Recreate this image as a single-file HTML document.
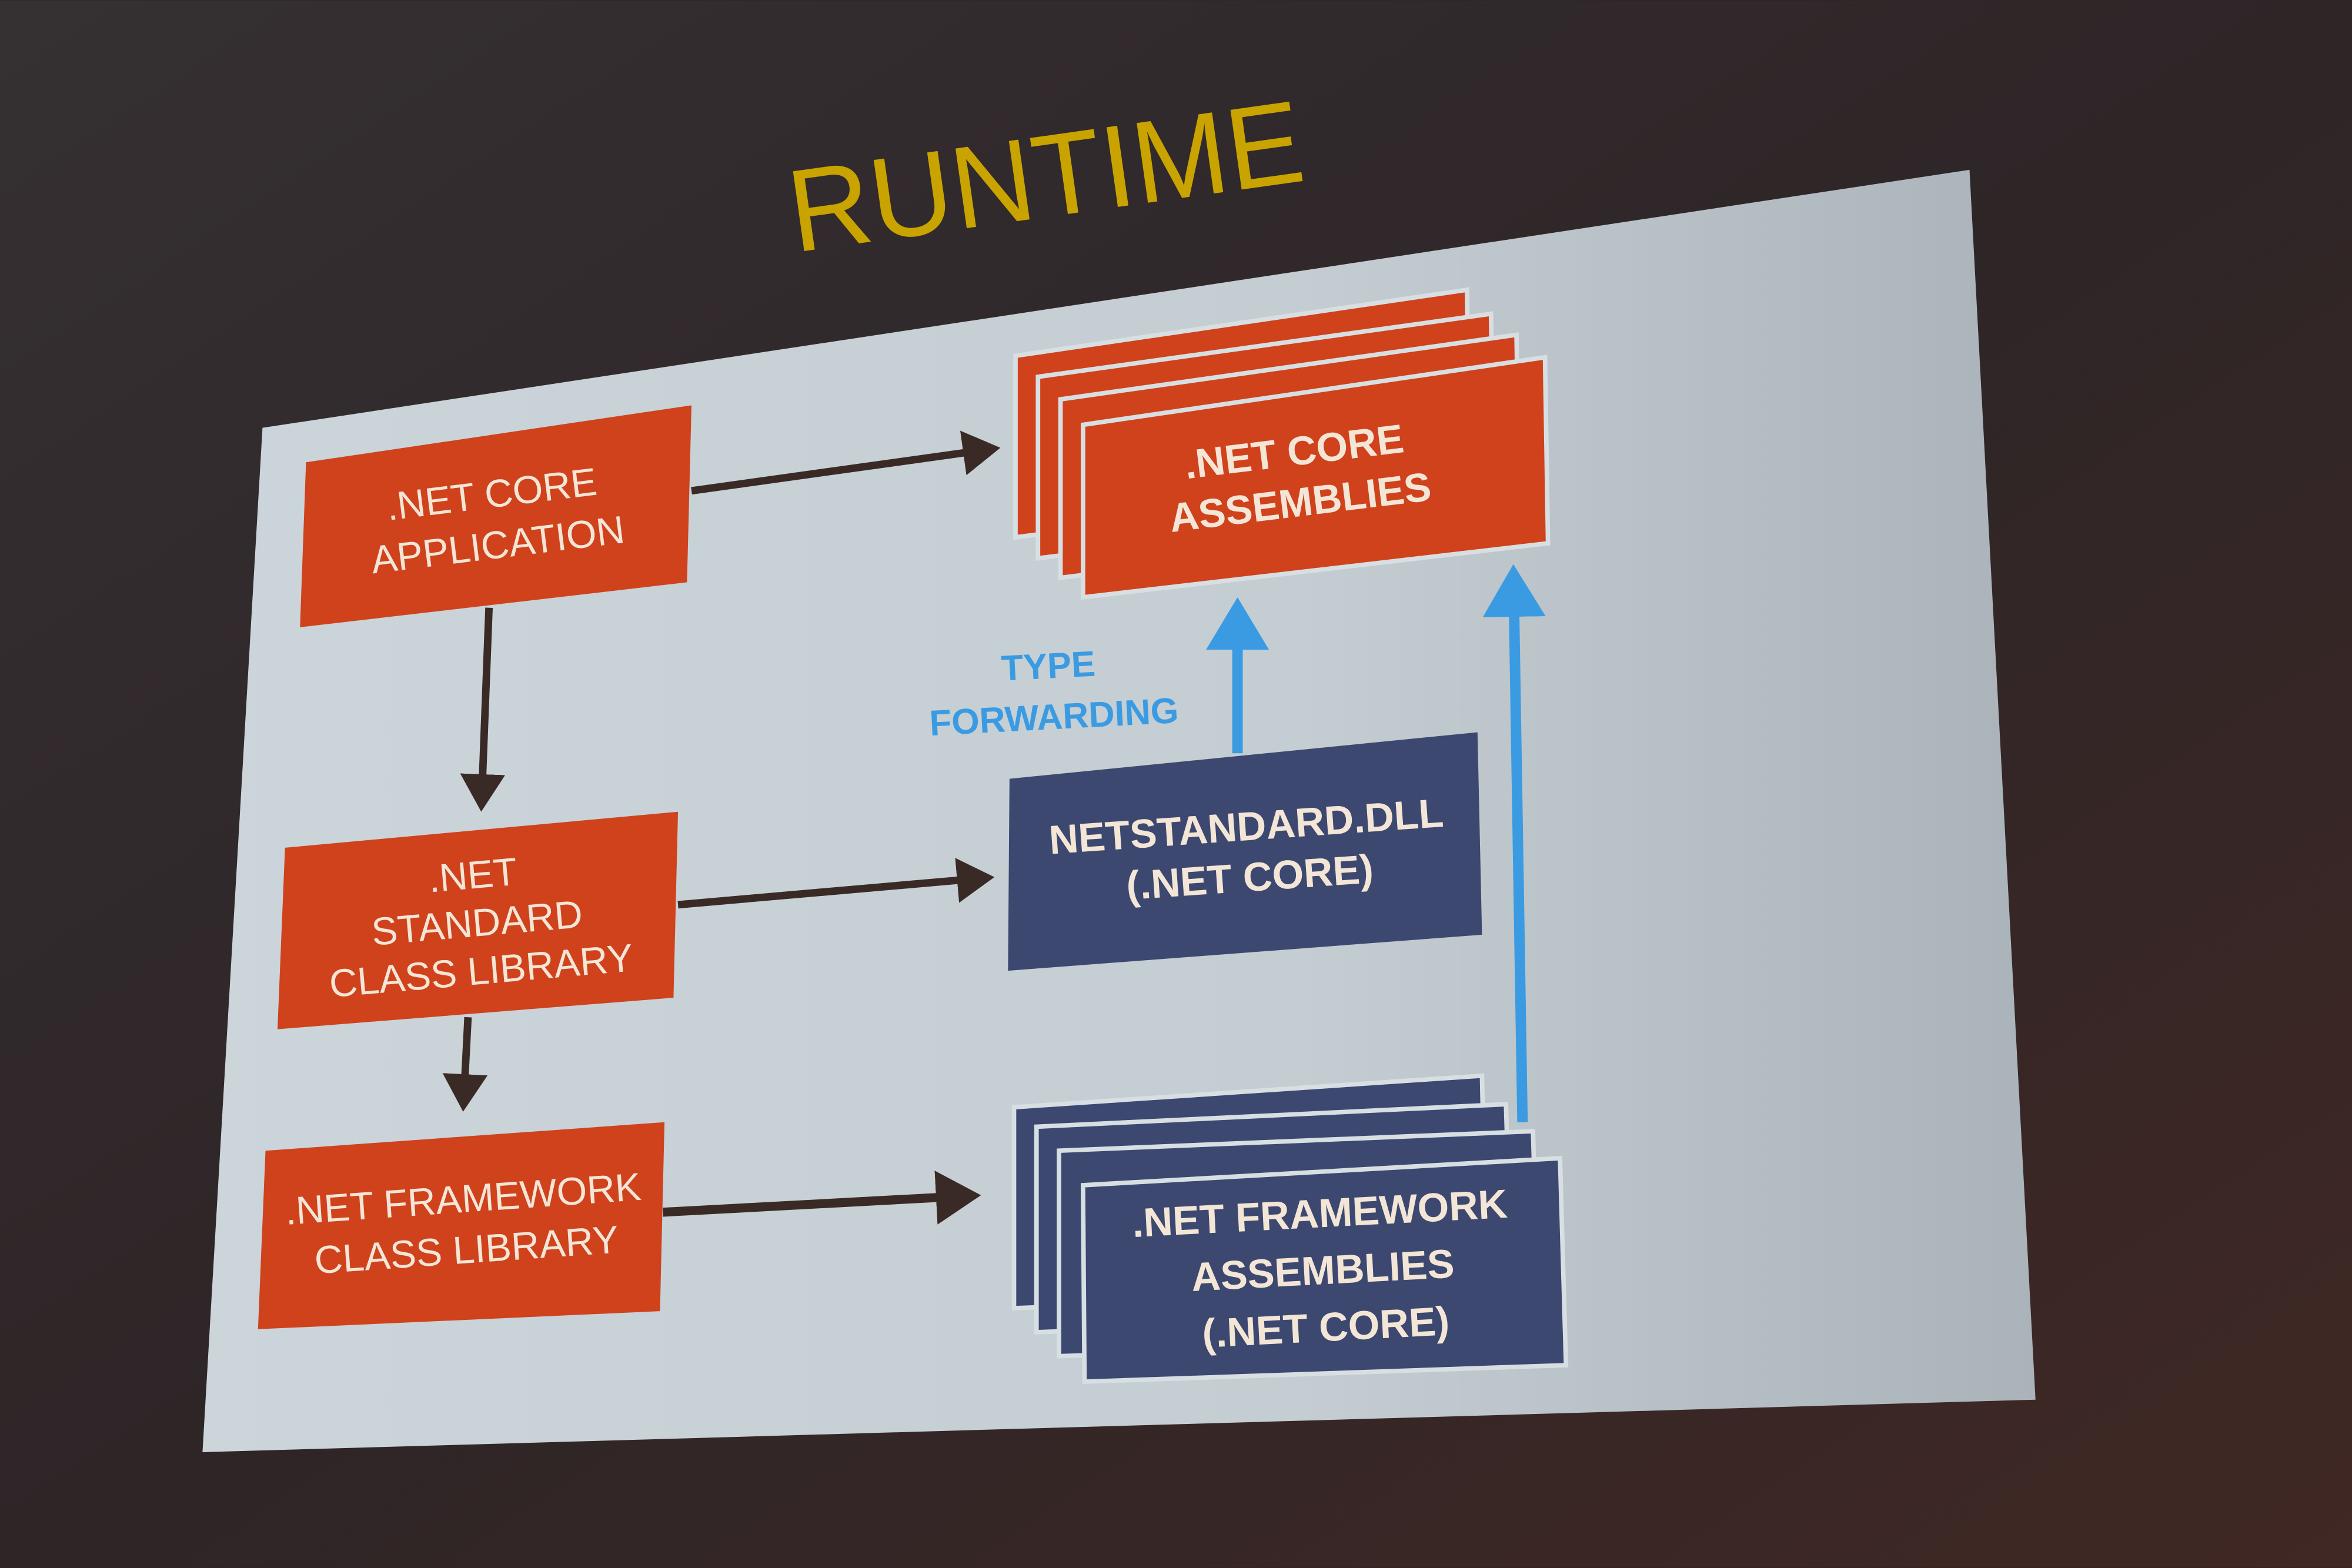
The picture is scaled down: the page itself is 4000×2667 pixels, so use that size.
<!DOCTYPE html>
<html><head><meta charset="utf-8"><style>
html,body{margin:0;padding:0;background:#2b2224;}
svg{display:block}
text{font-family:"Liberation Sans",sans-serif;}
</style></head><body>
<svg width="4000" height="2667" viewBox="0 0 1568 1045" xmlns="http://www.w3.org/2000/svg">
<defs>
<linearGradient id="bg" x1="0" y1="0" x2="1" y2="1">
<stop offset="0" stop-color="#353032"/><stop offset="0.5" stop-color="#2e2527"/><stop offset="1" stop-color="#402824"/>
</linearGradient>
<linearGradient id="scr" x1="0" y1="0" x2="1" y2="0">
<stop offset="0" stop-color="#cbd5da"/><stop offset="0.6" stop-color="#c4cdd2"/><stop offset="1" stop-color="#aab3b9"/>
</linearGradient>
<marker id="ad" markerWidth="6" markerHeight="6" refX="4" refY="3" orient="auto" markerUnits="strokeWidth"><path d="M0,0 L5,3 L0,6 z" fill="#3a2a26"/></marker>
<marker id="ab" markerWidth="6" markerHeight="6" refX="4" refY="3" orient="auto" markerUnits="strokeWidth"><path d="M0,0 L5,3 L0,6 z" fill="#3b9be2"/></marker>
</defs>
<rect width="1568" height="1045" fill="url(#bg)"/>
<polygon points="175,285 1313,113 1357,933 135,968" fill="url(#scr)"/>
<text x="0" y="0" font-size="78" fill="#c9a300" style="font-weight:normal" textLength="345" lengthAdjust="spacingAndGlyphs" transform="translate(530,168) rotate(-8)">RUNTIME</text>

<g fill="#cf421c" stroke="#d8dfe3" stroke-width="3">
<polygon points="677,237 978,193 980,320 677,358"/>
<polygon points="692,251 994,209 996,334 692,372"/>
<polygon points="707,266 1011,223 1013,348 707,385"/>
<polygon points="722,283 1030,238 1032,362 722,398"/>
</g>
<g fill="#3c4870" stroke="#d8dfe3" stroke-width="3">
<polygon points="676,738 988,717 991,860 676,872"/>
<polygon points="691,751 1004,736 1008,877 691,888"/>
<polygon points="706,767 1022,754 1026,893 706,904"/>
<polygon points="722,790 1040,772 1044,910 723,921"/>
</g>
<polygon points="204,308 461,270 458,388 200,418" fill="#cf421c"/>
<polygon points="190,565 452,541 449,665 185,686" fill="#cf421c"/>
<polygon points="177,767 443,748 440,874 172,886" fill="#cf421c"/>
<polygon points="673,519 985,488 988,623 672,647" fill="#3c4870"/>

<g stroke="#3a2a26" stroke-width="5" fill="none">
<line x1="461" y1="327" x2="662" y2="299" marker-end="url(#ad)"/>
<line x1="326" y1="405" x2="321" y2="536" marker-end="url(#ad)"/>
<line x1="452" y1="603" x2="658" y2="585" marker-end="url(#ad)"/>
<line x1="312" y1="678" x2="309" y2="736" marker-end="url(#ad)"/>
<line x1="442" y1="808" x2="648" y2="797" stroke-width="6" marker-end="url(#ad)"/>
</g>
<g stroke="#3b9be2" stroke-width="7" fill="none">
<line x1="825" y1="502" x2="825" y2="405" marker-end="url(#ab)"/>
<line x1="1015" y1="748" x2="1009" y2="383" marker-end="url(#ab)"/>
</g>
<g fill="#3b9be2" font-size="24" style="font-weight:bold" transform="rotate(-3 700 465)">
<text x="700" y="452" text-anchor="middle">TYPE</text>
<text x="702" y="486" text-anchor="middle">FORWARDING</text>
</g>
<g fill="#f4e6d6" font-size="26" text-anchor="middle" style="font-weight:normal">
<g transform="rotate(-7 330 348)"><text x="330" y="338">.NET CORE</text><text x="330" y="372">APPLICATION</text></g>
<g transform="rotate(-5 318 615)"><text x="318" y="592">.NET</text><text x="318" y="624">STANDARD</text><text x="318" y="656">CLASS LIBRARY</text></g>
<g transform="rotate(-4 310 818)"><text x="310" y="808">.NET FRAMEWORK</text><text x="310" y="842">CLASS LIBRARY</text></g>
</g>
<g fill="#f4e6d6" font-size="27" text-anchor="middle" style="font-weight:bold">
<g transform="rotate(-7 865 320)"><text x="865" y="310">.NET CORE</text><text x="865" y="344">ASSEMBLIES</text></g>
<g transform="rotate(-4 832 568)"><text x="832" y="560">NETSTANDARD.DLL</text><text x="832" y="594">(.NET CORE)</text></g>
<g transform="rotate(-3 882 850)"><text x="882" y="818">.NET FRAMEWORK</text><text x="882" y="856">ASSEMBLIES</text><text x="882" y="894">(.NET CORE)</text></g>
</g>
</svg>
</body></html>
